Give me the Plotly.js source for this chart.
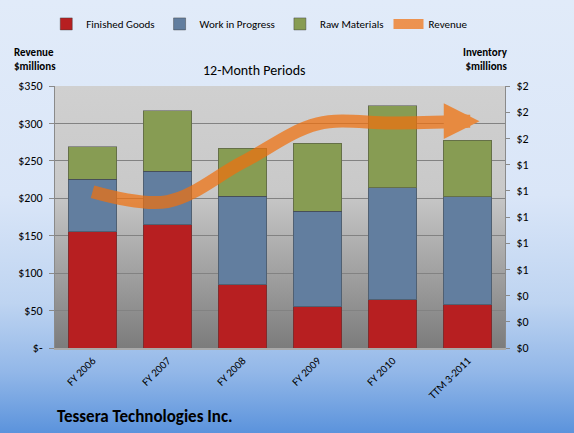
<!DOCTYPE html>
<html><head><meta charset="utf-8">
<script src="https://cdn.plot.ly/plotly-3.0.1.min.js"></script>
<style>
html,body{margin:0;padding:0;background:#fff;}
#wrap{position:relative;width:574px;height:433px;overflow:hidden;
background:linear-gradient(to bottom,#e1ebf9 0%,#dae6f8 45%,#bed4f1 70%,#92b7e8 86%,#5b93dc 100%);}
#plotbg{position:absolute;left:55px;top:86px;width:450px;height:262px;
background:linear-gradient(to bottom,#d0d0d0 0%,#c9c9c9 40%,#9c9c9c 75%,#7c7c7c 100%);}
#chart{position:absolute;left:0;top:0;width:574px;height:433px;}
</style></head><body>
<div id="wrap"><div id="plotbg"></div><div id="chart"></div></div>
<script>
const categories = ['FY 2006', 'FY 2007', 'FY 2008', 'FY 2009', 'FY 2010', 'TTM 3-2011'];
const finishedGoods = [0.888, 0.939, 0.482, 0.315, 0.368, 0.330];
const workInProgress = [0.402, 0.412, 0.678, 0.729, 0.856, 0.825];
const rawMaterials = [0.246, 0.459, 0.364, 0.518, 0.624, 0.432];
const revenue = [208.7, 195.6, 248.1, 299.4, 300.5, 303.0];
const revenueTickVals = [0, 50, 100, 150, 200, 250, 300, 350];
const revenueTickText = ['$-', '$50', '$100', '$150', '$200', '$250', '$300', '$350'];
const inventoryTickVals = [0, 0.2, 0.4, 0.6, 0.8, 1.0, 1.2, 1.4, 1.6, 1.8, 2.0];
const inventoryTickText = ['$0', '$0', '$0', '$1', '$1', '$1', '$1', '$1', '$2', '$2', '$2'];

const FONT = "Carlito, Lato, 'Open Sans', sans-serif";

const barLine = {color: 'rgba(60,60,60,0.45)', width: 1};
const traces = [
  {type: 'bar', name: 'Finished Goods', x: categories, y: finishedGoods, yaxis: 'y',
   marker: {color: '#b71f21', line: barLine}},
  {type: 'bar', name: 'Work in Progress', x: categories, y: workInProgress, yaxis: 'y',
   marker: {color: '#627e9f', line: barLine}},
  {type: 'bar', name: 'Raw Materials', x: categories, y: rawMaterials, yaxis: 'y',
   marker: {color: '#879c53', line: barLine}},
  {type: 'scatter', mode: 'lines', name: 'Revenue', x: categories, y: revenue, yaxis: 'y2',
   line: {color: 'rgba(240,112,14,0.72)', width: 13, shape: 'spline', smoothing: 1}}
];

const layout = {
  width: 574, height: 433,
  margin: {l: 55, r: 69, t: 86, b: 85, pad: 0, autoexpand: false},
  paper_bgcolor: 'rgba(0,0,0,0)',
  plot_bgcolor: 'rgba(0,0,0,0)',
  font: {family: FONT, size: 12, color: '#000'},
  barmode: 'stack',
  bargap: 0.35,
  showlegend: true,
  legend: {orientation: 'h', x: 0.455, xanchor: 'center', y: 1.237, yanchor: 'middle',
    font: {family: FONT, size: 11, color: '#000'}, bgcolor: 'rgba(0,0,0,0)', itemwidth: 30,
    traceorder: 'normal'},
  xaxis: {type: 'category', tickangle: -45, tickfont: {family: FONT, size: 11, color: '#000'},
    showline: true, linecolor: '#a9a9a9', linewidth: 2, ticks: '', showgrid: false,
    fixedrange: true, automargin: false},
  yaxis: {side: 'right', range: [0, 2], tickvals: inventoryTickVals, ticktext: inventoryTickText,
    showgrid: false, zeroline: false, showline: true, linecolor: '#8a8a8a', linewidth: 1,
    ticks: 'outside', ticklen: 4, tickcolor: '#8a8a8a', ticklabelstandoff: 4, automargin: false,
    tickfont: {family: FONT, size: 12, color: '#000'}},
  yaxis2: {side: 'left', overlaying: 'y', range: [0, 350], tickvals: revenueTickVals,
    ticktext: revenueTickText, showgrid: true, gridcolor: '#828282', gridwidth: 1,
    zeroline: false, showline: true, linecolor: '#8a8a8a', linewidth: 1, automargin: false,
    ticks: 'outside', ticklen: 5, tickcolor: '#8a8a8a', ticklabelstandoff: 4,
    tickfont: {family: FONT, size: 12, color: '#000'}},
  annotations: [
    {x: categories[categories.length - 1], y: revenue[revenue.length - 1], xref: 'x', yref: 'y2',
     ax: -24, ay: 0, showarrow: true, arrowhead: 2, arrowsize: 0.55, arrowwidth: 13,
     arrowcolor: 'rgb(231,138,64)', text: '', standoff: 0, xshift: 12},
    {text: '12-Month Periods', xref: 'paper', yref: 'paper',
     x: 0.444, y: 1.061, xanchor: 'center', yanchor: 'middle', showarrow: false,
     font: {family: FONT, size: 14, color: '#000'}},
    {text: '<b>Revenue</b><br><b>$millions</b>', xref: 'paper', yref: 'paper',
     x: -0.0956, y: 1.103, xanchor: 'left', yanchor: 'middle', align: 'left', showarrow: false,
     font: {family: FONT, size: 11, color: '#000'}},
    {text: '<b>Inventory</b><br><b>$millions</b>', xref: 'paper', yref: 'paper',
     x: 1.011, y: 1.101, xanchor: 'right', yanchor: 'middle', align: 'right', showarrow: false,
     font: {family: FONT, size: 11, color: '#000'}},
    {text: '<b>Tessera Technologies Inc.</b>', xref: 'paper', yref: 'paper',
     x: 0, y: -0.263, xanchor: 'left', yanchor: 'middle', showarrow: false,
     font: {family: FONT, size: 17, color: '#000'}}
  ]
};

Plotly.newPlot('chart', traces, layout, {staticPlot: true, displayModeBar: false});
</script>
</body></html>
